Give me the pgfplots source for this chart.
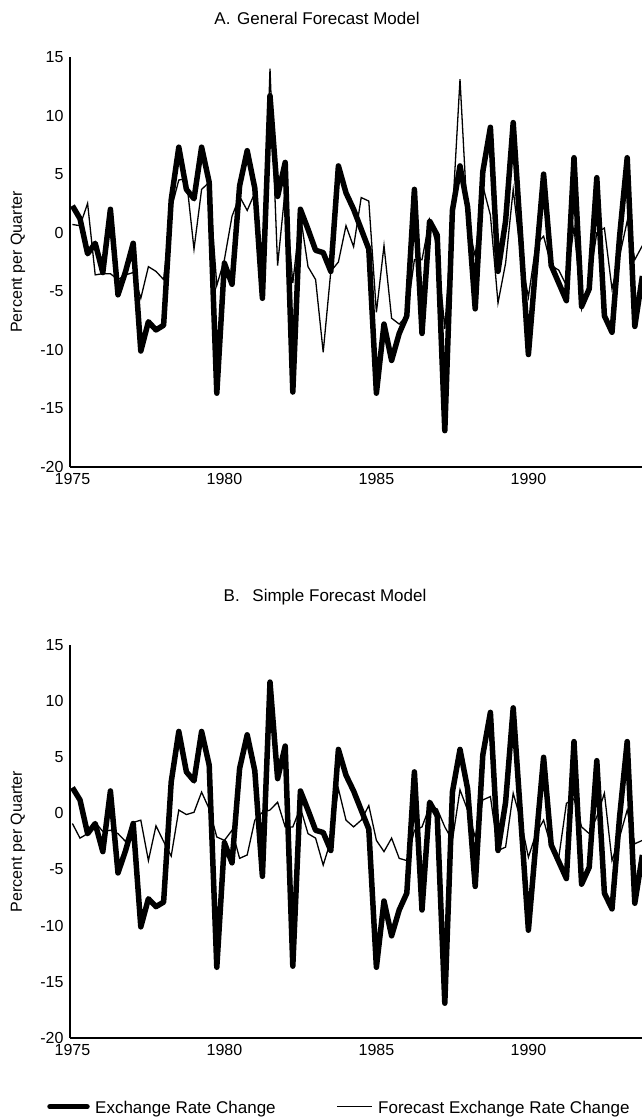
\documentclass[border=0pt]{standalone}
\usepackage{fontspec}
\setmainfont{Liberation Sans}
\usepackage{pgfplots}
\pgfplotsset{compat=1.18}
\usepackage{pgfplotstable}

% quarterly changes, percent per quarter
\pgfplotstableread{
t       rate  gen   simp
1975.00  2.3   0.7  -0.9
1975.25  1.2   0.6  -2.2
1975.50 -1.8   2.5  -1.8
1975.75 -0.9  -3.6  -0.8
1976.00 -3.4  -3.5  -1.6
1976.25  2.0  -3.5  -1.5
1976.50 -5.3  -4.0  -1.8
1976.75 -3.3  -3.6  -2.5
1977.00 -0.9  -3.4  -0.8
1977.25 -10.1 -5.6  -0.6
1977.50 -7.6  -2.9  -4.2
1977.75 -8.3  -3.3  -1.1
1978.00 -7.9  -4.0  -2.5
1978.25  2.8   2.0  -3.8
1978.50  7.3   4.5   0.3
1978.75  3.7   4.6  -0.1
1979.00  2.9  -1.4   0.1
1979.25  7.3   3.7   1.9
1979.50  4.3   4.3   0.4
1979.75 -13.7 -4.5  -2.1
1980.00 -2.6  -2.3  -2.4
1980.25 -4.4   1.4  -1.5
1980.50  4.0   3.1  -4.0
1980.75  7.0   1.9  -3.7
1981.00  3.8   3.4  -0.6
1981.25 -5.6  -5.5   0.1
1981.50 11.7  14.0   0.3
1981.75  3.1  -2.8   1.0
1982.00  6.0   3.7  -1.2
1982.25 -13.6 -4.3  -1.2
1982.50  2.0   1.5   0.5
1982.75  0.3  -2.9  -1.8
1983.00 -1.5  -4.0  -2.2
1983.25 -1.7 -10.2  -4.6
1983.50 -3.3  -3.3  -2.4
1983.75  5.7  -2.5   2.2
1984.00  3.4   0.6  -0.6
1984.25  2.0  -1.2  -1.2
1984.50  0.3   3.0  -0.6
1984.75 -1.4   2.7   0.7
1985.00 -13.7 -6.8  -2.4
1985.25 -7.8  -1.1  -3.4
1985.50 -10.9 -7.3  -2.2
1985.75 -8.6  -7.8  -4.0
1986.00 -7.1  -7.1  -4.2
1986.25  3.7  -2.3  -1.5
1986.50 -8.6  -2.3  -1.2
1986.75  1.0   1.1   0.6
1987.00 -0.2  -1.2   0.4
1987.25 -16.9 -8.2  -1.2
1987.50  1.9   1.5  -2.4
1987.75  5.7  13.1   2.1
1988.00  2.2   0.9   0.3
1988.25 -6.5  -2.0  -2.1
1988.50  5.2   4.0   1.2
1988.75  9.0   1.5   1.5
1989.00 -3.3  -6.0  -3.3
1989.25  1.0  -2.6  -3.0
1989.50  9.4   3.7   1.8
1989.75 -0.5  -2.0  -0.6
1990.00 -10.4 -5.5  -3.9
1990.25 -2.5  -1.0  -1.8
1990.50  5.0  -0.3  -0.6
1990.75 -2.8  -2.8  -3.0
1991.00 -4.3  -3.2  -3.9
1991.25 -5.8  -4.5   0.9
1991.50  6.4   0.5   1.3
1991.75 -6.3  -6.5  -1.2
1992.00 -4.8  -4.3  -1.8
1992.25  4.7   0.0  -0.3
1992.50 -7.1   0.4   1.8
1992.75 -8.5  -4.8  -4.2
1993.00 -0.3  -2.0  -2.1
1993.25  6.4   1.0   0.3
1993.50 -8.0  -2.3  -2.7
1993.75 -3.7  -1.1  -2.4
}\qdata

\newcommand{\tickfont}{\fontsize{16bp}{19bp}\selectfont}
\newcommand{\bigfont}{\fontsize{17bp}{20bp}\selectfont}

\pgfplotsset{
  panel/.style={
    scale only axis,
    width=572bp,
    xmin=1974.921, xmax=1993.737,
    ymin=-20, ymax=15,
    ytick={-20,-15,-10,-5,0,5,10,15},
    yticklabels={-20,-15,-10,-5,0,5,10,15},
    xtick={1975,1980,1985,1990},
    xticklabels={1975,1980,1985,1990},
    axis lines*=left,
    axis line style={line width=1.6bp},
    major tick length=0pt,
    tick label style={font=\tickfont},
    yticklabel style={xshift=-3bp},
    xticklabel style={yshift=-3bp},
    ylabel={Percent per Quarter},
    every axis y label/.style={at={(axis description cs:-0.091,0.5)},rotate=90,anchor=center,font=\tickfont},
  },
  rate/.style={black, line width=5.5bp, line join=round},
  fcst/.style={black, line width=1.3bp},
}

\begin{document}
\begin{tikzpicture}
\path[use as bounding box] (0bp,0bp) rectangle (642bp,1119bp);

% A. general model
\begin{axis}[panel, height=410bp, at={(70bp,652bp)}, anchor=south west]
\addplot[rate] table[x=t, y=rate] {\qdata};
\addplot[fcst] table[x=t, y=gen] {\qdata};
\end{axis}

% B. simple model
\begin{axis}[panel, height=393bp, at={(70bp,81bp)}, anchor=south west]
\addplot[rate] table[x=t, y=rate] {\qdata};
\addplot[fcst] table[x=t, y=simp] {\qdata};
\end{axis}

\node[anchor=base, font=\bigfont] at (317bp,1094bp) {A.\hspace{2bp} General Forecast Model};
\node[anchor=base, font=\bigfont] at (325bp,517bp) {B.\hspace{8bp} Simple Forecast Model};

% legend
\draw[line width=5.5bp, line cap=round] (50bp,12.3bp) -- (87bp,12.3bp);
\node[anchor=base west, inner sep=0pt, font=\bigfont] at (95bp,5.7bp) {Exchange Rate Change};
\draw[line width=1.3bp] (337bp,12.3bp) -- (372bp,12.3bp);
\node[anchor=base west, inner sep=0pt, font=\bigfont] at (378bp,5.7bp) {Forecast Exchange Rate Change};
\end{tikzpicture}
\end{document}
